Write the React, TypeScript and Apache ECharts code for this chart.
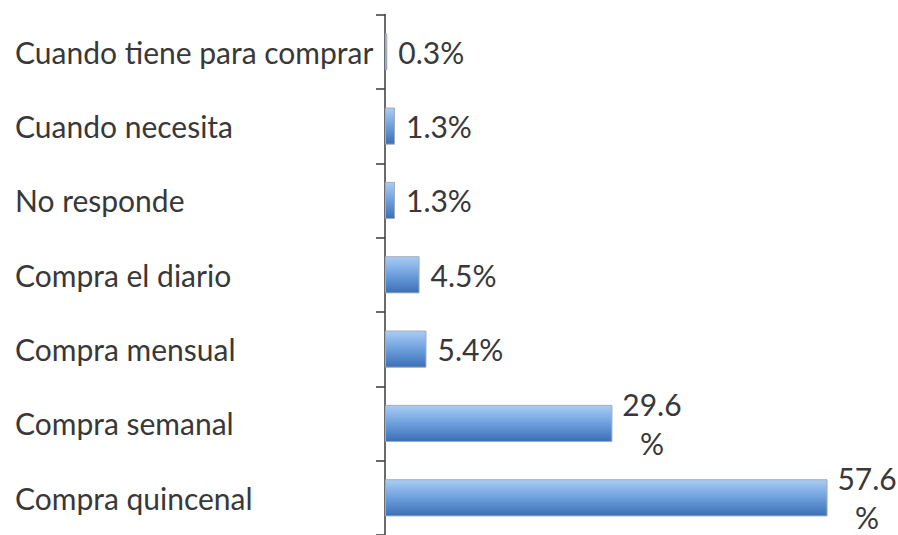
import React, { useEffect, useRef } from "react";
import * as echarts from "echarts";

const categories = [
  "Compra quincenal",
  "Compra semanal",
  "Compra mensual",
  "Compra el diario",
  "No responde",
  "Cuando necesita",
  "Cuando tiene para comprar",
];
const values = [57.6, 29.6, 5.4, 4.5, 1.3, 1.3, 0.3];

const FONT = "Lato, 'Noto Sans', sans-serif";

export default function App() {
  const ref = useRef<HTMLDivElement>(null);
  useEffect(() => {
    if (!ref.current) return;
    const chart = echarts.init(ref.current, null, { renderer: "svg" });
    chart.setOption({
      animation: false,
      grid: { left: 385, right: 52, top: 14.6, bottom: -2.5, containLabel: false },
      xAxis: {
        type: "value",
        min: 0,
        max: 60,
        show: false,
      },
      yAxis: {
        type: "category",
        data: categories,
        axisLine: { show: true, lineStyle: { color: "#3a3a3a", width: 1.5 } },
        axisTick: { show: true, length: 9, inside: false, lineStyle: { color: "#3a3a3a", width: 1.5 } },
        splitLine: { show: false },
        axisLabel: {
          align: "left",
          margin: 370,
          fontFamily: FONT,
          fontSize: 30,
          color: "#383838",
        },
      },
      series: [
        {
          type: "bar",
          data: values,
          barWidth: "50%",
          itemStyle: {
            color: new echarts.graphic.LinearGradient(0, 0, 0, 1, [
              { offset: 0, color: "#a9cdf5" },
              { offset: 0.5, color: "#6e9fdc" },
              { offset: 1, color: "#3a6fb6" },
            ]),
            borderColor: "#a4acb8",
            borderWidth: 1,
          },
          label: {
            show: true,
            position: "right",
            distance: 11,
            fontFamily: FONT,
            fontSize: 30,
            color: "#383838",
            lineHeight: 39,
            formatter: (p: any) =>
              p.value >= 10 ? `{w|${p.value}}\n{w|%}` : `${p.value}%`,
            rich: {
              w: {
                width: 57,
                align: "center",
                fontFamily: FONT,
                fontSize: 30,
                color: "#383838",
                lineHeight: 39,
              },
            },
          },
        },
      ],
    });
    return () => chart.dispose();
  }, []);
  return (
    <div
      ref={ref}
      style={{ position: "fixed", left: 0, top: 0, width: 898, height: 535, background: "#fff" }}
    />
  );
}
